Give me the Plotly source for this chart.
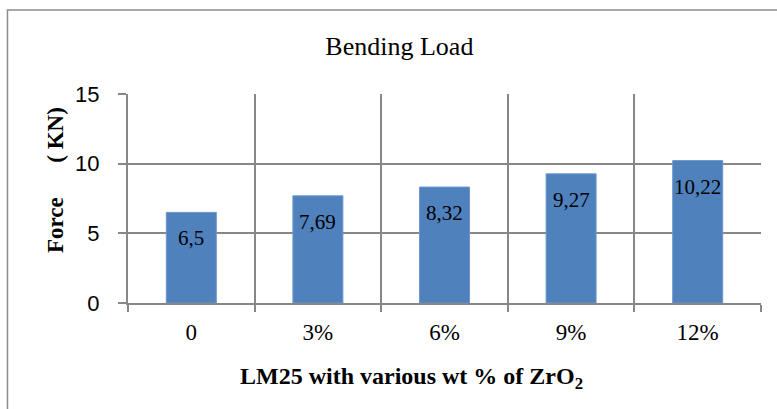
import plotly.graph_objects as go

categories = ["0", "3%", "6%", "9%", "12%"]
force_kn = [6.5, 7.69, 8.32, 9.27, 10.22]
value_labels = ["6,5", "7,69", "8,32", "9,27", "10,22"]
y_ticks = [0, 5, 10, 15]

SERIF = "Liberation Serif, Times New Roman, serif"
SANS = "Liberation Sans, Arial, sans-serif"
GRID = "#878787"

fig = go.Figure()
fig.add_trace(go.Bar(
    x=categories, y=force_kn,
    marker=dict(color="#4F81BD", line=dict(color="#6d97cc", width=1)),
    hoverinfo="skip",
))

annotations = []
for c, v, lab in zip(categories, force_kn, value_labels):
    annotations.append(dict(
        x=c, y=v, text=lab, showarrow=False, xref="x", yref="y",
        yshift=-26, yanchor="middle", xanchor="center",
        font=dict(family=SERIF, size=21, color="black"),
    ))

annotations.append(dict(
    x=0.448, y=-0.36, xref="paper", yref="paper",
    text="<b>LM25 with various wt % of ZrO<sub>2</sub></b>",
    showarrow=False, xanchor="center", yanchor="middle",
    font=dict(family=SERIF, size=24, color="black"),
))
annotations.append(dict(
    x=-0.1153, y=0.5885, xref="paper", yref="paper",
    text="<b>Force\u00a0\u00a0\u00a0\u00a0\u00a0\u00a0( KN)</b>",
    showarrow=False, xanchor="center", yanchor="middle", textangle=-90,
    font=dict(family=SERIF, size=23, color="black"),
))

fig.update_layout(
    width=777, height=409,
    margin=dict(l=128, r=16, t=94, b=106),
    paper_bgcolor="white", plot_bgcolor="white",
    bargap=0.605,
    showlegend=False,
    title=dict(text="Bending Load", x=0.514, xanchor="center",
               y=1 - 46 / 409, yanchor="middle", yref="container",
               font=dict(family=SERIF, size=26, color="black")),
    annotations=annotations,
    shapes=[dict(type="rect", xref="paper", yref="paper",
                 x0=-0.1904, x1=1.1, y0=-0.6, y1=1.402,
                 line=dict(color="#8c8c8c", width=1.5), layer="below")],
    xaxis=dict(
        type="category", tickson="boundaries",
        showgrid=True, gridcolor=GRID, gridwidth=2,
        showline=True, linecolor=GRID, linewidth=2, mirror=False,
        ticks="outside", ticklen=7, tickcolor=GRID, tickwidth=2,
        tickfont=dict(family=SERIF, size=23, color="black"),
        ticklabelstandoff=7,
    ),
    yaxis=dict(
        range=[0, 15], tickvals=y_ticks,
        showgrid=True, gridcolor=GRID, gridwidth=2,
        showline=True, linecolor=GRID, linewidth=2,
        ticks="outside", ticklen=8, tickcolor=GRID, tickwidth=2,
        tickfont=dict(family=SANS, size=22, color="black"),
        ticklabelstandoff=14, zeroline=False,
    ),
)

fig.write_html("out.html")
